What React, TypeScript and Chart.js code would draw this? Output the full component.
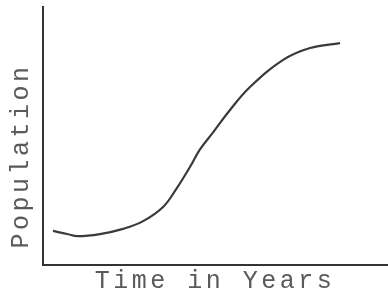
import React, { useEffect, useRef } from "react";
import { Chart, registerables } from "chart.js";

Chart.register(...registerables);

// Time (arbitrary units 0-100) vs population (arbitrary units 0-100)
const timeValues = [2.9, 7.0, 10.1, 16.5, 23.2, 29.0, 34.8, 38.8, 42.6, 45.5, 49.3, 54.2, 60.0, 69.6, 77.4, 86.1];
const populationValues = [13.2, 12.0, 11.2, 12.0, 14.0, 17.0, 22.5, 29.8, 38.0, 44.8, 51.4, 60.1, 69.0, 79.5, 84.1, 86.0];
const xTitle = "Time in Years";
const yTitle = "Population";

const FONT = '25px "Liberation Mono", "Courier New", monospace';

const titlePlugin = {
  id: "axisTitles",
  afterDraw(chart: any) {
    const { ctx, chartArea } = chart;
    ctx.save();
    ctx.font = FONT;
    ctx.fillStyle = "#5a5a5a";
    (ctx as any).letterSpacing = "3.5px";
    ctx.textAlign = "center";
    ctx.textBaseline = "alphabetic";
    ctx.fillText(xTitle, chartArea.left + 172, chartArea.bottom + 23);
    ctx.translate(chartArea.left - 15, chartArea.top + 149);
    ctx.rotate(-Math.PI / 2);
    ctx.fillText(yTitle, 0, 0);
    ctx.restore();
  },
};

export default function App() {
  const ref = useRef<HTMLCanvasElement>(null);
  useEffect(() => {
    if (!ref.current) return;
    const chart = new Chart(ref.current, {
      type: "line",
      data: {
        datasets: [
          {
            data: timeValues.map((t, i) => ({ x: t, y: populationValues[i] })),
            borderColor: "#3a3a3a",
            borderWidth: 2.2,
            pointRadius: 0,
            tension: 0.4,
            fill: false,
          },
        ],
      },
      options: {
        animation: false,
        responsive: false,
        events: [],
        layout: { padding: { left: 43, top: 7, right: 0, bottom: 30 } },
        plugins: { legend: { display: false }, tooltip: { enabled: false }, title: { display: false } },
        scales: {
          x: {
            type: "linear",
            min: 0,
            max: 100,
            grid: { display: false, drawTicks: false },
            ticks: { display: false },
            border: { display: true, color: "#333", width: 2 },
            afterFit: (s: any) => { s.height = 0; },
          },
          y: {
            type: "linear",
            min: 0,
            max: 100,
            grid: { display: false, drawTicks: false },
            ticks: { display: false },
            border: { display: true, color: "#333", width: 2 },
            afterFit: (s: any) => { s.width = 0; },
          },
        },
      },
      plugins: [titlePlugin],
    });
    return () => chart.destroy();
  }, []);
  return (
    <div style={{ position: "fixed", left: 0, top: 0, width: 388, height: 295, background: "#fff" }}>
      <canvas ref={ref} width={388} height={295} style={{ display: "block" }} />
    </div>
  );
}
